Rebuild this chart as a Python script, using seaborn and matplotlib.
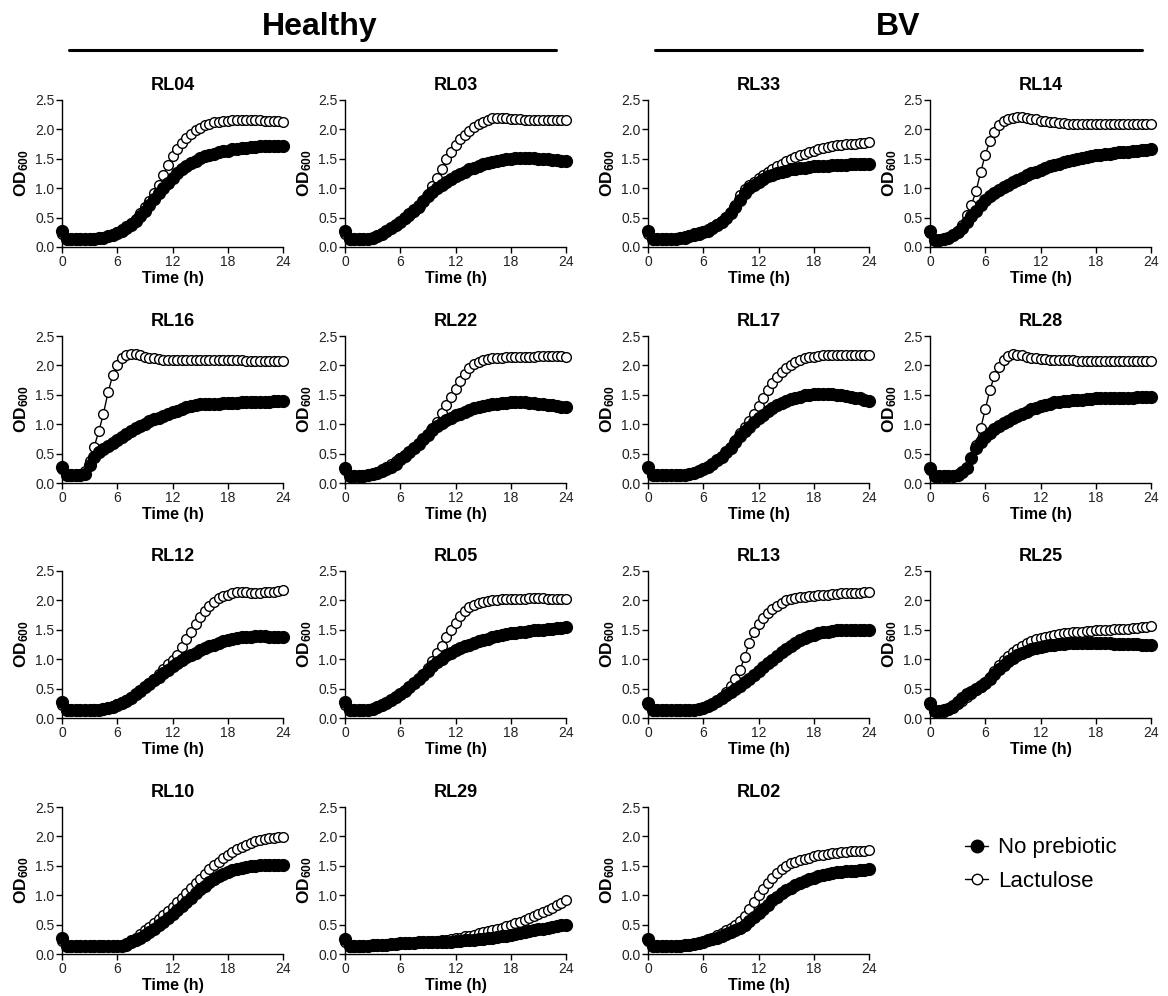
import numpy as np
import pandas as pd
import matplotlib
matplotlib.use("Agg")
import matplotlib.pyplot as plt
from matplotlib.lines import Line2D
import seaborn as sns

# time points every 30 min
time_h = np.arange(0, 24.5, 0.5)

# ---- Healthy ----
rl04_none = [0.27, 0.14, 0.13, 0.13, 0.13, 0.13, 0.14, 0.14, 0.15, 0.16, 0.18, 0.21,
             0.24, 0.28, 0.32, 0.38, 0.44, 0.52, 0.61, 0.71, 0.81, 0.91, 1.00, 1.09,
             1.17, 1.25, 1.32, 1.38, 1.43, 1.47, 1.51, 1.54, 1.57, 1.59, 1.61, 1.63,
             1.64, 1.66, 1.67, 1.68, 1.69, 1.70, 1.70, 1.71, 1.71, 1.72, 1.72, 1.72, 1.72]
rl04_lac = [0.22, 0.13, 0.13, 0.13, 0.13, 0.14, 0.14, 0.15, 0.16, 0.17, 0.19, 0.22,
            0.26, 0.30, 0.35, 0.41, 0.48, 0.57, 0.68, 0.79, 0.91, 1.06, 1.23, 1.40,
            1.55, 1.67, 1.77, 1.86, 1.93, 1.99, 2.03, 2.07, 2.10, 2.12, 2.13, 2.14,
            2.15, 2.16, 2.16, 2.16, 2.16, 2.16, 2.16, 2.16, 2.15, 2.15, 2.14, 2.14, 2.13]

rl03_none = [0.27, 0.14, 0.13, 0.13, 0.13, 0.13, 0.15, 0.18, 0.22, 0.27, 0.32, 0.37,
             0.43, 0.49, 0.56, 0.63, 0.70, 0.78, 0.86, 0.93, 1.00, 1.05, 1.10, 1.15,
             1.20, 1.24, 1.28, 1.32, 1.35, 1.38, 1.41, 1.43, 1.45, 1.47, 1.48, 1.49,
             1.50, 1.51, 1.51, 1.51, 1.51, 1.51, 1.50, 1.50, 1.49, 1.48, 1.48, 1.47, 1.46]
rl03_lac = [0.22, 0.13, 0.13, 0.13, 0.13, 0.14, 0.16, 0.19, 0.23, 0.28, 0.33, 0.38,
            0.43, 0.48, 0.53, 0.59, 0.67, 0.78, 0.90, 1.03, 1.17, 1.33, 1.49, 1.62,
            1.73, 1.83, 1.91, 1.98, 2.04, 2.09, 2.13, 2.16, 2.19, 2.20, 2.20, 2.19,
            2.18, 2.17, 2.17, 2.16, 2.16, 2.16, 2.16, 2.16, 2.16, 2.16, 2.16, 2.16, 2.16]

rl16_none = [0.27, 0.14, 0.13, 0.13, 0.14, 0.16, 0.30, 0.45, 0.52, 0.58, 0.63, 0.68,
             0.73, 0.78, 0.83, 0.88, 0.93, 0.97, 1.01, 1.05, 1.08, 1.11, 1.14, 1.17,
             1.20, 1.23, 1.26, 1.29, 1.31, 1.33, 1.34, 1.34, 1.35, 1.35, 1.35, 1.36,
             1.36, 1.36, 1.36, 1.37, 1.37, 1.37, 1.37, 1.38, 1.38, 1.38, 1.39, 1.39, 1.39]
rl16_lac = [0.24, 0.13, 0.12, 0.13, 0.14, 0.20, 0.38, 0.62, 0.88, 1.18, 1.54, 1.83,
            2.01, 2.12, 2.18, 2.20, 2.19, 2.17, 2.15, 2.13, 2.12, 2.11, 2.10, 2.10,
            2.09, 2.09, 2.09, 2.09, 2.09, 2.09, 2.09, 2.09, 2.09, 2.09, 2.09, 2.09,
            2.09, 2.09, 2.09, 2.09, 2.08, 2.08, 2.08, 2.08, 2.08, 2.08, 2.08, 2.08, 2.08]

rl22_none = [0.25, 0.12, 0.12, 0.12, 0.12, 0.13, 0.15, 0.17, 0.20, 0.24, 0.28, 0.33,
             0.40, 0.46, 0.52, 0.59, 0.66, 0.74, 0.82, 0.90, 0.97, 1.02, 1.07, 1.11,
             1.15, 1.18, 1.21, 1.24, 1.27, 1.29, 1.31, 1.33, 1.34, 1.35, 1.36, 1.36,
             1.37, 1.37, 1.37, 1.37, 1.36, 1.36, 1.35, 1.34, 1.33, 1.32, 1.31, 1.30, 1.29]
rl22_lac = [0.22, 0.12, 0.12, 0.12, 0.13, 0.14, 0.16, 0.19, 0.23, 0.27, 0.32, 0.37,
            0.42, 0.47, 0.53, 0.59, 0.66, 0.74, 0.83, 0.93, 1.04, 1.19, 1.33, 1.47,
            1.60, 1.73, 1.85, 1.95, 2.02, 2.06, 2.09, 2.11, 2.12, 2.13, 2.13, 2.14,
            2.14, 2.14, 2.14, 2.15, 2.15, 2.15, 2.16, 2.16, 2.16, 2.16, 2.16, 2.16, 2.15]

rl12_none = [0.27, 0.13, 0.13, 0.13, 0.13, 0.13, 0.13, 0.14, 0.14, 0.15, 0.17, 0.19,
             0.22, 0.25, 0.29, 0.34, 0.40, 0.46, 0.52, 0.58, 0.64, 0.70, 0.76, 0.82,
             0.88, 0.93, 0.98, 1.03, 1.07, 1.11, 1.15, 1.19, 1.22, 1.25, 1.28, 1.31,
             1.33, 1.35, 1.36, 1.37, 1.38, 1.38, 1.39, 1.39, 1.39, 1.38, 1.38, 1.38, 1.37]
rl12_lac = [0.22, 0.13, 0.13, 0.13, 0.13, 0.13, 0.14, 0.15, 0.16, 0.17, 0.19, 0.21,
            0.24, 0.27, 0.31, 0.35, 0.41, 0.47, 0.53, 0.60, 0.67, 0.75, 0.83, 0.91,
            0.98, 1.07, 1.20, 1.34, 1.47, 1.60, 1.72, 1.82, 1.90, 1.98, 2.04, 2.08,
            2.10, 2.12, 2.14, 2.15, 2.14, 2.13, 2.13, 2.13, 2.14, 2.14, 2.15, 2.16, 2.17]

rl05_none = [0.27, 0.13, 0.13, 0.13, 0.13, 0.14, 0.16, 0.19, 0.22, 0.26, 0.30, 0.35,
             0.40, 0.46, 0.52, 0.59, 0.66, 0.73, 0.80, 0.88, 0.95, 1.01, 1.07, 1.11,
             1.15, 1.19, 1.22, 1.25, 1.28, 1.31, 1.33, 1.35, 1.37, 1.39, 1.41, 1.43,
             1.44, 1.45, 1.46, 1.47, 1.48, 1.49, 1.50, 1.50, 1.51, 1.52, 1.53, 1.53, 1.54]
rl05_lac = [0.22, 0.13, 0.13, 0.13, 0.13, 0.14, 0.16, 0.19, 0.22, 0.26, 0.30, 0.35,
            0.40, 0.46, 0.52, 0.59, 0.66, 0.75, 0.85, 0.97, 1.10, 1.22, 1.37, 1.50,
            1.62, 1.73, 1.82, 1.88, 1.93, 1.96, 1.98, 1.99, 2.00, 2.01, 2.02, 2.02,
            2.03, 2.03, 2.03, 2.03, 2.04, 2.04, 2.04, 2.04, 2.03, 2.03, 2.03, 2.03, 2.03]

rl10_none = [0.27, 0.14, 0.13, 0.13, 0.13, 0.13, 0.13, 0.13, 0.13, 0.13, 0.13, 0.14,
             0.14, 0.14, 0.16, 0.20, 0.24, 0.28, 0.33, 0.38, 0.43, 0.49, 0.55, 0.61,
             0.68, 0.75, 0.82, 0.89, 0.96, 1.03, 1.10, 1.16, 1.22, 1.27, 1.32, 1.36,
             1.40, 1.43, 1.45, 1.47, 1.48, 1.49, 1.50, 1.51, 1.51, 1.52, 1.52, 1.52, 1.52]
rl10_lac = [0.22, 0.13, 0.13, 0.13, 0.13, 0.13, 0.13, 0.13, 0.13, 0.13, 0.13, 0.14,
            0.14, 0.15, 0.18, 0.23, 0.28, 0.34, 0.40, 0.46, 0.52, 0.59, 0.66, 0.73,
            0.80, 0.88, 0.96, 1.04, 1.12, 1.20, 1.28, 1.36, 1.44, 1.51, 1.57, 1.63,
            1.68, 1.73, 1.78, 1.82, 1.86, 1.89, 1.92, 1.94, 1.96, 1.97, 1.98, 1.99, 1.99]

rl29_none = [0.25, 0.13, 0.13, 0.13, 0.14, 0.14, 0.15, 0.15, 0.16, 0.16, 0.17, 0.17,
             0.18, 0.18, 0.19, 0.19, 0.20, 0.20, 0.20, 0.20, 0.21, 0.21, 0.21, 0.21,
             0.22, 0.22, 0.23, 0.23, 0.24, 0.25, 0.26, 0.27, 0.28, 0.29, 0.30, 0.31,
             0.33, 0.34, 0.36, 0.37, 0.39, 0.40, 0.42, 0.43, 0.45, 0.46, 0.48, 0.49, 0.50]
rl29_lac = [0.20, 0.12, 0.12, 0.12, 0.13, 0.13, 0.14, 0.14, 0.15, 0.15, 0.16, 0.16,
            0.17, 0.17, 0.18, 0.18, 0.19, 0.20, 0.20, 0.21, 0.22, 0.23, 0.24, 0.25,
            0.27, 0.28, 0.30, 0.31, 0.33, 0.35, 0.37, 0.39, 0.41, 0.43, 0.45, 0.47,
            0.50, 0.52, 0.55, 0.58, 0.61, 0.64, 0.68, 0.71, 0.75, 0.79, 0.83, 0.87, 0.91]

# ---- BV ----
rl33_none = [0.27, 0.13, 0.13, 0.13, 0.13, 0.13, 0.14, 0.15, 0.16, 0.18, 0.20, 0.22,
             0.25, 0.28, 0.32, 0.37, 0.43, 0.50, 0.58, 0.68, 0.80, 0.91, 1.00, 1.06,
             1.11, 1.16, 1.20, 1.23, 1.26, 1.28, 1.30, 1.32, 1.33, 1.34, 1.35, 1.36,
             1.37, 1.37, 1.38, 1.38, 1.39, 1.39, 1.40, 1.40, 1.41, 1.41, 1.41, 1.42, 1.42]
rl33_lac = [0.22, 0.13, 0.13, 0.13, 0.14, 0.14, 0.15, 0.16, 0.18, 0.20, 0.23, 0.25,
            0.28, 0.31, 0.34, 0.39, 0.44, 0.51, 0.60, 0.72, 0.88, 0.98, 1.05, 1.11,
            1.17, 1.22, 1.27, 1.32, 1.37, 1.42, 1.46, 1.50, 1.53, 1.56, 1.59, 1.62,
            1.64, 1.66, 1.68, 1.70, 1.71, 1.73, 1.74, 1.75, 1.76, 1.76, 1.77, 1.77, 1.78]

rl14_none = [0.27, 0.12, 0.12, 0.13, 0.15, 0.20, 0.26, 0.33, 0.42, 0.52, 0.62, 0.72,
             0.80, 0.86, 0.92, 0.97, 1.02, 1.06, 1.10, 1.14, 1.18, 1.22, 1.25, 1.28,
             1.31, 1.34, 1.37, 1.40, 1.42, 1.44, 1.46, 1.48, 1.50, 1.52, 1.53, 1.55,
             1.56, 1.57, 1.58, 1.59, 1.60, 1.61, 1.62, 1.62, 1.63, 1.64, 1.65, 1.65, 1.66]
rl14_lac = [0.24, 0.12, 0.12, 0.13, 0.15, 0.20, 0.27, 0.38, 0.55, 0.72, 0.95, 1.27,
            1.57, 1.80, 1.96, 2.07, 2.14, 2.18, 2.20, 2.21, 2.21, 2.20, 2.18, 2.17,
            2.15, 2.14, 2.13, 2.12, 2.11, 2.11, 2.10, 2.10, 2.10, 2.10, 2.10, 2.10,
            2.10, 2.10, 2.10, 2.10, 2.10, 2.10, 2.10, 2.10, 2.10, 2.10, 2.10, 2.10, 2.10]

rl17_none = [0.27, 0.13, 0.13, 0.13, 0.13, 0.13, 0.13, 0.13, 0.14, 0.15, 0.17, 0.20,
             0.23, 0.28, 0.33, 0.39, 0.45, 0.52, 0.60, 0.70, 0.80, 0.88, 0.96, 1.03,
             1.10, 1.16, 1.22, 1.27, 1.32, 1.36, 1.40, 1.43, 1.45, 1.47, 1.49, 1.50,
             1.51, 1.52, 1.52, 1.52, 1.51, 1.50, 1.49, 1.48, 1.47, 1.45, 1.44, 1.42, 1.39]
rl17_lac = [0.23, 0.13, 0.13, 0.13, 0.13, 0.13, 0.13, 0.13, 0.14, 0.15, 0.17, 0.20,
            0.23, 0.28, 0.33, 0.39, 0.45, 0.53, 0.62, 0.73, 0.85, 0.95, 1.06, 1.18,
            1.31, 1.45, 1.58, 1.70, 1.80, 1.88, 1.95, 2.01, 2.06, 2.10, 2.12, 2.14,
            2.15, 2.16, 2.17, 2.17, 2.17, 2.17, 2.17, 2.17, 2.17, 2.17, 2.17, 2.17, 2.17]

rl28_none = [0.26, 0.12, 0.12, 0.12, 0.12, 0.12, 0.13, 0.18, 0.25, 0.42, 0.60, 0.70,
             0.78, 0.85, 0.92, 0.97, 1.02, 1.06, 1.10, 1.14, 1.18, 1.21, 1.25, 1.28,
             1.31, 1.33, 1.35, 1.37, 1.38, 1.39, 1.40, 1.41, 1.42, 1.42, 1.43, 1.43,
             1.44, 1.44, 1.44, 1.45, 1.45, 1.45, 1.45, 1.45, 1.45, 1.46, 1.46, 1.46, 1.46]
rl28_lac = [0.22, 0.12, 0.12, 0.12, 0.12, 0.12, 0.13, 0.18, 0.25, 0.42, 0.65, 0.93,
            1.25, 1.58, 1.82, 1.98, 2.10, 2.16, 2.19, 2.18, 2.17, 2.15, 2.13, 2.12,
            2.11, 2.11, 2.10, 2.10, 2.09, 2.09, 2.09, 2.09, 2.08, 2.08, 2.08, 2.08,
            2.08, 2.08, 2.08, 2.08, 2.08, 2.08, 2.08, 2.08, 2.08, 2.08, 2.08, 2.08, 2.08]

rl13_none = [0.26, 0.13, 0.13, 0.13, 0.13, 0.13, 0.13, 0.13, 0.13, 0.13, 0.14, 0.15,
             0.17, 0.20, 0.24, 0.29, 0.34, 0.39, 0.44, 0.49, 0.55, 0.61, 0.67, 0.73,
             0.80, 0.86, 0.93, 0.99, 1.06, 1.12, 1.18, 1.23, 1.28, 1.32, 1.36, 1.39,
             1.42, 1.44, 1.46, 1.47, 1.48, 1.49, 1.50, 1.50, 1.50, 1.50, 1.50, 1.50, 1.50]
rl13_lac = [0.22, 0.13, 0.13, 0.13, 0.13, 0.13, 0.13, 0.13, 0.13, 0.13, 0.14, 0.15,
            0.17, 0.20, 0.24, 0.29, 0.36, 0.44, 0.55, 0.67, 0.82, 1.04, 1.28, 1.47,
            1.60, 1.70, 1.78, 1.85, 1.91, 1.96, 2.00, 2.02, 2.04, 2.05, 2.06, 2.07,
            2.08, 2.09, 2.10, 2.10, 2.11, 2.11, 2.12, 2.12, 2.13, 2.13, 2.13, 2.14, 2.14]

rl25_none = [0.25, 0.12, 0.12, 0.13, 0.15, 0.20, 0.28, 0.34, 0.40, 0.45, 0.50, 0.55,
             0.60, 0.67, 0.75, 0.83, 0.90, 0.97, 1.02, 1.07, 1.11, 1.14, 1.17, 1.19,
             1.21, 1.23, 1.24, 1.25, 1.26, 1.26, 1.27, 1.27, 1.27, 1.27, 1.27, 1.27,
             1.27, 1.27, 1.27, 1.27, 1.26, 1.26, 1.26, 1.26, 1.26, 1.26, 1.25, 1.25, 1.25]
rl25_lac = [0.22, 0.12, 0.11, 0.11, 0.13, 0.17, 0.23, 0.29, 0.35, 0.41, 0.47, 0.53,
            0.60, 0.70, 0.80, 0.90, 0.98, 1.05, 1.12, 1.18, 1.23, 1.27, 1.31, 1.34,
            1.36, 1.38, 1.40, 1.42, 1.43, 1.44, 1.45, 1.46, 1.46, 1.47, 1.48, 1.48,
            1.49, 1.49, 1.50, 1.50, 1.51, 1.51, 1.52, 1.52, 1.53, 1.53, 1.54, 1.55, 1.56]

rl02_none = [0.26, 0.14, 0.14, 0.14, 0.14, 0.14, 0.14, 0.14, 0.15, 0.16, 0.17, 0.19,
             0.21, 0.23, 0.26, 0.28, 0.31, 0.34, 0.37, 0.41, 0.45, 0.50, 0.56, 0.63,
             0.70, 0.77, 0.84, 0.91, 0.97, 1.03, 1.08, 1.13, 1.17, 1.21, 1.24, 1.27,
             1.30, 1.32, 1.34, 1.36, 1.37, 1.39, 1.40, 1.41, 1.42, 1.42, 1.43, 1.43, 1.44]
rl02_lac = [0.22, 0.13, 0.13, 0.13, 0.13, 0.14, 0.14, 0.14, 0.15, 0.16, 0.17, 0.19,
            0.21, 0.24, 0.28, 0.32, 0.36, 0.40, 0.45, 0.50, 0.56, 0.65, 0.76, 0.88,
            1.00, 1.10, 1.20, 1.30, 1.38, 1.45, 1.50, 1.54, 1.57, 1.60, 1.62, 1.64,
            1.66, 1.68, 1.69, 1.70, 1.71, 1.72, 1.73, 1.74, 1.75, 1.75, 1.76, 1.76, 1.77]

# panel order, row by row
panel_grid = [
    [("RL04", rl04_none, rl04_lac), ("RL03", rl03_none, rl03_lac),
     ("RL33", rl33_none, rl33_lac), ("RL14", rl14_none, rl14_lac)],
    [("RL16", rl16_none, rl16_lac), ("RL22", rl22_none, rl22_lac),
     ("RL17", rl17_none, rl17_lac), ("RL28", rl28_none, rl28_lac)],
    [("RL12", rl12_none, rl12_lac), ("RL05", rl05_none, rl05_lac),
     ("RL13", rl13_none, rl13_lac), ("RL25", rl25_none, rl25_lac)],
    [("RL10", rl10_none, rl10_lac), ("RL29", rl29_none, rl29_lac),
     ("RL02", rl02_none, rl02_lac), None],
]

sns.set_style("ticks")
plt.rcParams["font.family"] = ["Liberation Sans", "DejaVu Sans"]
plt.rcParams["mathtext.fontset"] = "custom"
plt.rcParams["mathtext.rm"] = "Liberation Sans"
plt.rcParams["mathtext.bf"] = "Liberation Sans:bold"
for key in ["text.color", "axes.labelcolor", "axes.edgecolor", "xtick.color", "ytick.color"]:
    plt.rcParams[key] = "black"

W, H = 1168, 996
fig = plt.figure(figsize=(W / 100, H / 100), dpi=100)

col_left = [62, 345, 648, 930]
row_top = [100, 336, 571, 807]
ax_w, ax_h = 221, 147

for r, row in enumerate(panel_grid):
    for c, panel in enumerate(row):
        ax = fig.add_axes([col_left[c] / W, 1 - (row_top[r] + ax_h) / H, ax_w / W, ax_h / H])
        if panel is None:
            ax.axis("off")
            handles = [
                Line2D([], [], color="black", lw=1, marker="o", markersize=9,
                       markerfacecolor="black", markeredgecolor="black"),
                Line2D([], [], color="black", lw=1, marker="o", markersize=7.5,
                       markerfacecolor="white", markeredgecolor="black"),
            ]
            ax.legend(handles, ["No prebiotic", "Lactulose"], loc="upper left",
                      bbox_to_anchor=(0.07, 0.93), frameon=False, fontsize=16,
                      handlelength=1.0, handletextpad=0.45, labelspacing=0.55)
            continue
        name, none_vals, lac_vals = panel
        df = pd.DataFrame({"time": time_h, "none": none_vals, "lac": lac_vals})
        sns.lineplot(data=df, x="time", y="lac", ax=ax, color="black", lw=1,
                     marker="o", markersize=7, markerfacecolor="white",
                     markeredgecolor="black", markeredgewidth=1, clip_on=False, zorder=3)
        sns.lineplot(data=df, x="time", y="none", ax=ax, color="black", lw=1,
                     marker="o", markersize=8.5, markerfacecolor="black",
                     markeredgecolor="black", markeredgewidth=1, clip_on=False, zorder=4)
        ax.set_xlim(0, 24)
        ax.set_ylim(0, 2.5)
        ax.set_xticks([0, 6, 12, 18, 24])
        ax.set_yticks([0, 0.5, 1.0, 1.5, 2.0, 2.5])
        ax.set_yticklabels(["0.0", "0.5", "1.0", "1.5", "2.0", "2.5"])
        ax.tick_params(direction="out", length=4, width=1, labelsize=10,
                       labelcolor="#222222", pad=1.5)
        for s in ["left", "bottom"]:
            ax.spines[s].set_linewidth(1)
        sns.despine(ax=ax)
        ax.set_title(name, fontsize=13, fontweight="bold", pad=7)
        ax.set_xlabel("Time (h)", fontsize=11.5, fontweight="bold", labelpad=2)
        ax.set_ylabel(r"$\mathbf{OD_{600}}$", fontsize=12.5, labelpad=3)

# group headers
fig.text(320 / W, 1 - 27 / H, "Healthy", ha="center", va="center",
         fontsize=23, fontweight="bold")
fig.text(898 / W, 1 - 27 / H, "BV", ha="center", va="center",
         fontsize=23, fontweight="bold")
fig.add_artist(Line2D([69 / W, 556 / W], [1 - 50 / H, 1 - 50 / H], color="black", lw=2.2))
fig.add_artist(Line2D([655 / W, 1142 / W], [1 - 50 / H, 1 - 50 / H], color="black", lw=2.2))

fig.savefig("out.png", dpi=100)
